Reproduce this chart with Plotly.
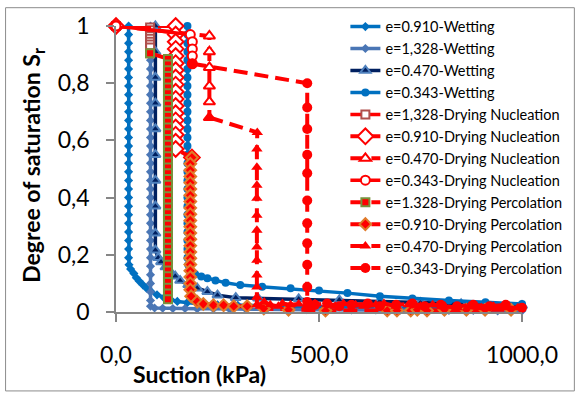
import plotly.graph_objects as go

FONT = "Lato"

# ---------------- data (suction kPa, degree of saturation) ----------------
names = [
    "e=0.910-Wetting", "e=1,328-Wetting", "e=0.470-Wetting", "e=0.343-Wetting",
    "e=1,328-Drying Nucleation", "e=0.910-Drying Nucleation",
    "e=0.470-Drying Nucleation", "e=0.343-Drying Nucleation",
    "e=1.328-Drying Percolation", "e=0.910-Drying Percolation",
    "e=0.470-Drying Percolation", "e=0.343-Drying Percolation",
]

w0910_x = [31, 31, 31, 31, 31, 31, 31, 31, 31, 31, 31, 31, 31, 31, 31, 31, 31, 31, 31, 31,
           31, 31, 31, 31, 31, 31, 31, 31,
           32, 36, 44, 50, 57, 66, 75, 86, 101, 118, 135, 151, 175, 208, 250, 300, 360, 430,
           500, 580, 660, 740, 820, 900, 1000]
w0910_s = [1.0, 0.97, 0.94, 0.91, 0.88, 0.85, 0.82, 0.79, 0.76, 0.73, 0.70, 0.67, 0.64, 0.61,
           0.58, 0.55, 0.52, 0.49, 0.46, 0.43, 0.40, 0.37, 0.34, 0.31, 0.28, 0.25, 0.22, 0.19,
           0.165, 0.15, 0.135, 0.12, 0.108, 0.095, 0.083, 0.072, 0.06, 0.05, 0.043, 0.037, 0.032,
           0.028, 0.025, 0.023, 0.021, 0.019, 0.018, 0.016, 0.015, 0.014, 0.013, 0.012, 0.011]

w1328_x = [85, 85, 85, 85, 85, 85, 85, 85, 85, 85, 85, 85, 85, 85, 85, 85, 85, 85, 85, 85,
           85, 85, 85, 85, 85, 85, 85, 85, 85, 85, 85, 85, 85, 85,
           95, 115, 140, 170, 200, 240, 280, 320, 370, 420, 470, 520, 580, 640, 700, 760,
           820, 880, 940, 1000]
w1328_s = [1.0, 0.97, 0.94, 0.91, 0.88, 0.85, 0.82, 0.79, 0.76, 0.73, 0.70, 0.67, 0.64, 0.61,
           0.58, 0.55, 0.52, 0.49, 0.46, 0.43, 0.40, 0.37, 0.34, 0.31, 0.28, 0.25, 0.22, 0.19,
           0.16, 0.13, 0.10, 0.07, 0.04, 0.02,
           0.014, 0.013, 0.012, 0.012, 0.011, 0.011, 0.01, 0.01, 0.009, 0.009, 0.008, 0.008,
           0.007, 0.007, 0.006, 0.006, 0.005, 0.005, 0.004, 0.004]

w0470_x = [97, 97, 97, 97, 97, 97, 97, 97, 97, 97, 104, 111, 122, 134, 146, 158, 178, 200,
           225, 250, 295, 350, 450, 550, 650, 750, 850, 1000]
w0470_s = [1.0, 0.91, 0.82, 0.73, 0.64, 0.55, 0.46, 0.37, 0.275, 0.216, 0.19, 0.175, 0.157,
           0.14, 0.125, 0.11, 0.095, 0.083, 0.071, 0.059, 0.05, 0.048, 0.046, 0.042, 0.038,
           0.033, 0.028, 0.022]

w0343_x = [176, 176, 176, 176, 176, 176, 176, 176, 176, 176, 176, 176, 176, 176, 176, 176,
           176, 176, 176, 176, 176, 176, 176, 176, 176, 176, 176, 176,
           178, 183, 195, 210, 225, 245, 270, 306, 360, 430, 500, 570, 650, 730, 820, 910, 1000]
w0343_s = [1.0, 0.97, 0.94, 0.91, 0.88, 0.85, 0.82, 0.79, 0.76, 0.73, 0.70, 0.67, 0.64, 0.61,
           0.58, 0.55, 0.52, 0.49, 0.46, 0.43, 0.40, 0.37, 0.34, 0.31, 0.28, 0.25, 0.22, 0.19,
           0.165, 0.146, 0.132, 0.124, 0.118, 0.11, 0.102, 0.094, 0.088, 0.083, 0.075, 0.066,
           0.055, 0.047, 0.04, 0.034, 0.028]

dn1328_x = [0, 84, 84, 84, 84, 84, 84, 84, 84, 84]
dn1328_s = [1.0, 0.995, 0.985, 0.975, 0.965, 0.955, 0.945, 0.935, 0.925, 0.905]

dn0910_x = [0, 147, 147, 147, 147, 147, 147, 147, 147, 147, 147, 147, 147, 147, 147, 147,
            147, 147, 147, 187]
dn0910_s = [1.0, 1.0, 0.97, 0.945, 0.92, 0.895, 0.87, 0.845, 0.82, 0.795, 0.77, 0.745, 0.72,
            0.695, 0.67, 0.645, 0.62, 0.595, 0.57, 0.54]

dn0470_x = [0, 230, 230, 230, 230, 230, 230]
dn0470_s = [1.0, 0.965, 0.91, 0.855, 0.79, 0.735, 0.68]

dn0343_x = [0, 183, 188, 188, 188, 188]
dn0343_s = [1.0, 0.97, 0.945, 0.92, 0.895, 0.868]

dp1328_x = [84, 128, 128, 128, 128, 128, 128, 128, 128, 128, 128, 128, 128, 128, 128, 128,
            128, 128, 128, 128, 128, 128, 128, 128, 128, 128, 128, 128, 128, 128, 128, 128,
            128, 128, 128, 128, 128, 128, 128, 128, 128, 128, 128, 128]
dp1328_s = [0.905, 0.885, 0.865, 0.845, 0.825, 0.805, 0.785, 0.765, 0.745, 0.725, 0.705,
            0.685, 0.665, 0.645, 0.625, 0.605, 0.585, 0.565, 0.545, 0.525, 0.505, 0.485,
            0.465, 0.445, 0.425, 0.405, 0.385, 0.365, 0.345, 0.325, 0.305, 0.285, 0.265,
            0.245, 0.225, 0.205, 0.185, 0.165, 0.145, 0.125, 0.105, 0.085, 0.065, 0.045]

dp0910_x = [187, 183, 183, 183, 183, 183, 183, 183, 183, 183, 183, 183, 183, 183, 183, 183,
            183, 183, 183, 183, 183, 183, 185,
            200, 215, 240, 265, 290, 323, 364, 425, 516, 668, 692, 726, 742, 766, 809, 863,
            909, 973]
dp0910_s = [0.54, 0.518, 0.496, 0.474, 0.452, 0.43, 0.408, 0.386, 0.364, 0.342, 0.32, 0.298,
            0.276, 0.254, 0.232, 0.21, 0.188, 0.166, 0.144, 0.122, 0.1, 0.078, 0.055,
            0.036, 0.028, 0.024, 0.024, 0.02, 0.02, 0.012, 0.008, 0.005, 0.005, 0.005, 0.005,
            0.008, 0.005, 0.008, 0.008, 0.008, 0.008]

dp0470_x = [230, 348, 347, 347, 347, 347, 347, 347, 347, 347, 347, 347, 347, 347,
            355, 365, 380, 400, 410, 430, 450, 470, 490, 520, 540, 560, 590, 610, 640, 660,
            690, 720, 750, 780, 810, 840, 870, 900, 930, 960, 990]
dp0470_s = [0.68, 0.628, 0.57, 0.506, 0.443, 0.398, 0.338, 0.286, 0.227, 0.181, 0.129, 0.087,
            0.052, 0.025,
            0.02, 0.035, 0.025, 0.02, 0.03, 0.025, 0.028, 0.02, 0.03, 0.025, 0.02, 0.03, 0.025,
            0.02, 0.025, 0.03, 0.02, 0.025, 0.02, 0.025, 0.02, 0.015, 0.02, 0.015, 0.02, 0.015,
            0.015]

dp0343_x = [188, 471, 471, 471, 471, 471, 471, 471, 471, 471, 471, 471,
            490, 520, 550, 580, 620, 650, 690, 730, 760, 800, 840, 880, 920, 960, 1000]
dp0343_s = [0.868, 0.80, 0.715, 0.64, 0.55, 0.485, 0.39, 0.31, 0.24, 0.165, 0.087, 0.035,
            0.025, 0.03, 0.02, 0.025, 0.03, 0.02, 0.025, 0.03, 0.02, 0.025, 0.02, 0.025, 0.02,
            0.025, 0.015]

x_tickvals = [0, 500, 1000]
x_ticktext = ["0,0", "500,0", "1000,0"]
y_tickvals = [0, 0.2, 0.4, 0.6, 0.8, 1.0]
y_ticktext = ["0", "0,2", "0,4", "0,6", "0,8", "1"]

# ---------------- styles ----------------
RED = "#FF0000"
DASH = "14px,7px"
series = [
    (w0910_x, w0910_s, dict(color="#0070C0", width=3.5, dash="solid"),
     dict(symbol="diamond", size=7, color="#0070C0")),
    (w1328_x, w1328_s, dict(color="#4A76B5", width=3.5, dash="solid"),
     dict(symbol="diamond", size=7, color="#4A76B5")),
    (w0470_x, w0470_s, dict(color="#002060", width=3.5, dash="solid"),
     dict(symbol="triangle-up", size=9, color="#002060", line=dict(color="#4F81BD", width=2))),
    (w0343_x, w0343_s, dict(color="#0070C0", width=3.5, dash="solid"),
     dict(symbol="circle", size=8, color="#0070C0")),
    (dn1328_x, dn1328_s, dict(color=RED, width=3.5, dash="solid"),
     dict(symbol="square", size=8, color="white", line=dict(color="#B0504D", width=2))),
    (dn0910_x, dn0910_s, dict(color=RED, width=4, dash=DASH),
     dict(symbol="diamond", size=12, color="white", line=dict(color=RED, width=2))),
    (dn0470_x, dn0470_s, dict(color=RED, width=4, dash=DASH),
     dict(symbol="triangle-up", size=10, color="white", line=dict(color=RED, width=2))),
    (dn0343_x, dn0343_s, dict(color=RED, width=3.5, dash="solid"),
     dict(symbol="circle", size=9, color="white", line=dict(color=RED, width=2))),
    (dp1328_x, dp1328_s, dict(color=RED, width=4, dash=DASH),
     dict(symbol="square", size=8, color=RED, line=dict(color="#77933C", width=2))),
    (dp0910_x, dp0910_s, dict(color=RED, width=4, dash=DASH),
     dict(symbol="diamond", size=9, color=RED, line=dict(color="#E07B2A", width=2))),
    (dp0470_x, dp0470_s, dict(color=RED, width=4, dash=DASH),
     dict(symbol="triangle-up", size=10, color=RED)),
    (dp0343_x, dp0343_s, dict(color=RED, width=4, dash=DASH),
     dict(symbol="circle", size=10, color=RED)),
]

fig = go.Figure()
for i, (name, (xs, ys, ln, mk)) in enumerate(zip(names, series)):
    fig.add_trace(go.Scatter(x=xs, y=ys, name=name, mode="lines+markers",
                             line=ln, marker=mk, cliponaxis=False,
                             legendgroup=f"g{i}"))

AXC = "#868686"
fig.update_xaxes(range=[0, 1000], tickvals=x_tickvals, ticktext=x_ticktext,
                 showline=True, linecolor=AXC, linewidth=1.5, ticks="outside",
                 ticklen=8, tickcolor=AXC, tickwidth=1.5, showgrid=False, zeroline=False,
                 ticklabelstandoff=14, tickfont=dict(family=FONT, size=23, color="black"))
fig.update_yaxes(range=[0, 1], tickvals=y_tickvals, ticktext=y_ticktext,
                 showline=True, linecolor=AXC, linewidth=1.5, ticks="outside",
                 ticklen=8, tickcolor=AXC, tickwidth=1.5, showgrid=False, zeroline=False,
                 ticklabelstandoff=12, tickfont=dict(family=FONT, size=23, color="black"))

fig.update_layout(
    width=580, height=394,
    margin=dict(l=116, r=58, t=25, b=82),
    plot_bgcolor="white", paper_bgcolor="white",
    font=dict(family=FONT, color="black"),
    showlegend=True,
    legend=dict(x=0.565, y=1.05, xanchor="left", yanchor="top",
                bgcolor="rgba(0,0,0,0)", font=dict(family=FONT, size=14.5, color="black"),
                tracegroupgap=0.1, maxheight=380),
    annotations=[
        dict(text="<b>Suction (kPa)</b>", xref="paper", yref="paper", x=0.2056, y=-0.218,
             showarrow=False, font=dict(family=FONT, size=23, color="black"),
             xanchor="center", yanchor="middle"),
        dict(text="<b>Degree of saturation S<sub>r</sub></b>", xref="paper", yref="paper",
             x=-0.2056, y=0.513, textangle=-90, showarrow=False,
             font=dict(family=FONT, size=23, color="black"),
             xanchor="center", yanchor="middle"),
    ],
    shapes=[dict(type="rect", xref="paper", yref="paper", x0=-0.272, x1=1.129,
                 y0=-0.276, y1=1.064, line=dict(color="#8C8C8C", width=1),
                 fillcolor="rgba(0,0,0,0)", layer="below")],
)

fig.write_html("out.html")
